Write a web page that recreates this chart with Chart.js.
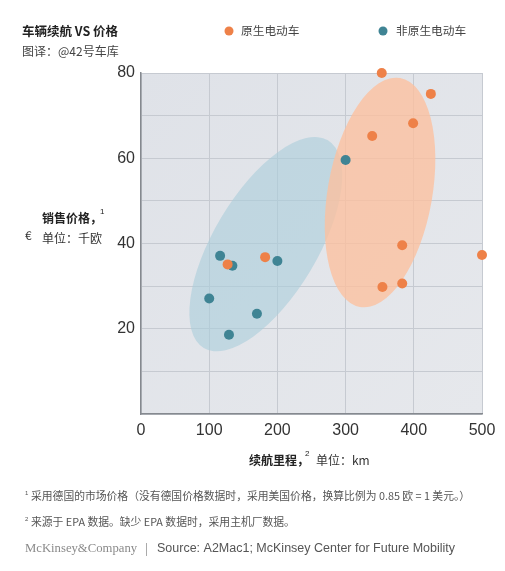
<!DOCTYPE html>
<html><head><meta charset="utf-8">
<script src="https://cdn.jsdelivr.net/npm/chart.js@4/dist/chart.umd.min.js"></script>
<style>html,body{margin:0;padding:0;background:#fff;}#wrap{width:505px;height:571px;position:relative;}</style>
</head><body><div id="wrap"><canvas id="c" width="505" height="571"></canvas></div>
<script>
// ---- data ----
const nativeRange = [353, 425, 399, 339, 383, 500, 182, 127, 354, 383];
const nativePrice = [80, 75.1, 68.2, 65.2, 39.6, 37.3, 36.8, 35.1, 29.8, 30.6];
const nonNativeRange = [300, 116, 134, 200, 100, 170, 129];
const nonNativePrice = [59.6, 37.1, 34.8, 35.9, 27.1, 23.5, 18.6];
const seriesNames = ['原生电动车', '非原生电动车'];
const xTicks = [0, 100, 200, 300, 400, 500];
const yTicks = [20, 40, 60, 80];
// cluster ellipses: major-axis end points in data units, minor/major ratio
const nativeCluster = {from: [321, 25.1], to: [380, 78.8], ratio: 0.45};
const nonNativeCluster = {from: [92, 15.5], to: [274, 64.2], ratio: 0.43};

const ORANGE = '#ee8148', TEAL = '#3f8494';
const CJK = '"Noto Sans CJK SC","Liberation Sans",sans-serif';
const NUM = '"Liberation Sans",Arial,sans-serif';

function toPts(xs, ys){ return xs.map((x,i)=>({x:x, y:ys[i]})); }

const decor = {
  id: 'decor',
  beforeDraw(chart){
    const ctx = chart.ctx, a = chart.chartArea;
    ctx.save();
    ctx.fillStyle = '#fff';
    ctx.fillRect(0,0,chart.width,chart.height);
    const g = ctx.createLinearGradient(a.left, a.top, a.right, a.bottom);
    g.addColorStop(0, '#dfe2e8');
    g.addColorStop(1, '#e6e8ec');
    ctx.fillStyle = g;
    ctx.fillRect(a.left, a.top, a.right-a.left, a.bottom-a.top);
    ctx.restore();
  },
  beforeDatasetsDraw(chart){
    const ctx = chart.ctx, xs = chart.scales.x, ys = chart.scales.y;
    function ell(c, color){
      const x1 = xs.getPixelForValue(c.from[0]), y1 = ys.getPixelForValue(c.from[1]);
      const x2 = xs.getPixelForValue(c.to[0]), y2 = ys.getPixelForValue(c.to[1]);
      const cx = (x1+x2)/2, cy = (y1+y2)/2;
      const r = Math.hypot(x2-x1, y2-y1)/2;
      const rot = Math.atan2(y2-y1, x2-x1);
      ctx.save();
      ctx.beginPath();
      ctx.ellipse(cx, cy, r, r*c.ratio, rot, 0, Math.PI*2);
      ctx.fillStyle = color;
      ctx.fill();
      ctx.restore();
    }
    ell(nonNativeCluster, 'rgba(170,205,218,0.6)');
    ell(nativeCluster, 'rgba(252,192,158,0.78)');
  },
  afterDraw(chart){
    const ctx = chart.ctx;
    ctx.save();
    ctx.textBaseline = 'middle';
    ctx.textAlign = 'left';
    // title
    ctx.fillStyle = '#222';
    ctx.font = 'bold 12.5px ' + CJK;
    ctx.fillText('车辆续航 VS 价格', 22, 31);
    ctx.fillStyle = '#444';
    ctx.font = '12px ' + CJK;
    ctx.fillText('图译：@42号车库', 22, 51);
    // legend
    const ds = chart.data.datasets;
    const leg = [[229, 241], [383, 396]];
    ds.forEach((d,i)=>{
      ctx.beginPath();
      ctx.arc(leg[i][0], 31, 4.5, 0, Math.PI*2);
      ctx.fillStyle = d.backgroundColor;
      ctx.fill();
      ctx.fillStyle = '#444';
      ctx.font = '11.7px ' + CJK;
      ctx.fillText(d.label, leg[i][1], 31);
    });
    // y axis title
    ctx.fillStyle = '#222';
    ctx.font = 'bold 12px ' + CJK;
    ctx.fillText('销售价格，', 42, 218);
    ctx.font = '8px ' + NUM;
    ctx.fillText('1', 100, 212);
    ctx.fillStyle = '#333';
    ctx.font = '12px ' + CJK;
    ctx.fillText('€', 25, 235);
    ctx.fillText('单位：千欧', 42, 238);
    // x axis title
    ctx.fillStyle = '#222';
    ctx.font = 'bold 12px ' + CJK;
    ctx.fillText('续航里程，', 249, 460);
    ctx.font = '8px ' + NUM;
    ctx.fillText('2', 305, 454);
    ctx.fillStyle = '#333';
    ctx.font = '12px ' + CJK;
    ctx.fillText('单位：km', 316, 460);
    // footnotes
    ctx.fillStyle = '#555';
    ctx.font = '6px ' + NUM;
    ctx.fillText('1', 25, 493);
    ctx.fillText('2', 25, 519);
    ctx.font = '10.8px ' + CJK;
    ctx.fillText('采用德国的市场价格（没有德国价格数据时，采用美国价格，换算比例为 0.85 欧 = 1 美元。）', 31, 496);
    ctx.fillText('来源于 EPA 数据。缺少 EPA 数据时，采用主机厂数据。', 31, 522);
    ctx.fillStyle = '#8a8a8a';
    ctx.font = '12.7px "Liberation Serif",serif';
    ctx.fillText('McKinsey&Company', 25, 549);
    ctx.fillStyle = '#aaa';
    ctx.fillRect(146, 543, 1, 13);
    ctx.fillStyle = '#555';
    ctx.font = '12.5px ' + NUM;
    ctx.fillText('Source: A2Mac1; McKinsey Center for Future Mobility', 157, 549);
    ctx.restore();
  }
};

new Chart(document.getElementById('c'), {
  type: 'scatter',
  data: {
    datasets: [
      {label: seriesNames[0], data: toPts(nativeRange, nativePrice), backgroundColor: ORANGE, borderColor: ORANGE, pointRadius: 5, pointHoverRadius: 5, borderWidth: 0, clip: false},
      {label: seriesNames[1], data: toPts(nonNativeRange, nonNativePrice), backgroundColor: TEAL, borderColor: TEAL, pointRadius: 5, pointHoverRadius: 5, borderWidth: 0, clip: false}
    ]
  },
  options: {
    responsive: false,
    animation: false,
    events: [],
    layout: {padding: {left: 0, right: 23, top: 73, bottom: 0}},
    plugins: {legend: {display: false}, tooltip: {enabled: false}},
    scales: {
      x: {
        type: 'linear', min: 0, max: 500,
        afterFit(s){ s.height = 157; },
        afterBuildTicks(s){ s.ticks = xTicks.map(v=>({value:v})); },
        grid: {color: '#c6cad1', lineWidth: 1, drawTicks: false},
        border: {display: true, color: '#85898f', width: 1.5},
        ticks: {padding: 7, color: '#333', font: {family: NUM, size: 16}}
      },
      y: {
        type: 'linear', min: 0, max: 80,
        afterFit(s){ s.width = 141; },
        ticks: {stepSize: 10, padding: 6, color: '#333', font: {family: NUM, size: 16},
          callback: (v)=> yTicks.includes(v) ? String(v) : ''},
        grid: {color: '#c6cad1', lineWidth: 1, drawTicks: false},
        border: {display: true, color: '#85898f', width: 1.5}
      }
    }
  },
  plugins: [decor]
});
</script></body></html>
